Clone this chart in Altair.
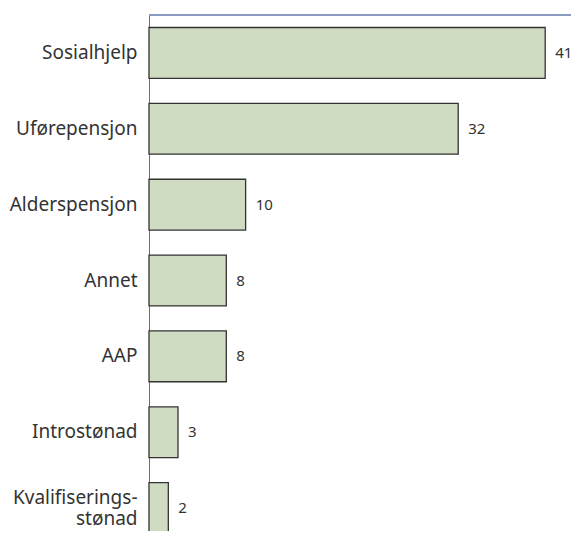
import altair as alt
import pandas as pd

categories = ["Sosialhjelp", "Uførepensjon", "Alderspensjon", "Annet", "AAP", "Introstønad", "Kvalifiseringsstønad"]
values = [41, 32, 10, 8, 8, 3, 2]

df = pd.DataFrame({"kategori": categories, "verdi": values})

W, H = 422, 516          # drawn view (kept inside the window)
XR, YR = 430, 531        # full scale ranges (extend past the window edge, as in the reference)
FONT = "Noto Sans"

y = alt.Y("kategori:N", sort=categories, title=None,
          scale=alt.Scale(paddingInner=0.33, paddingOuter=0.165, range=[0, YR]),
          axis=alt.Axis(domainColor="#5d6e99", domainWidth=1, ticks=False,
                        labelPadding=12, labelFontSize=19, labelColor="#333333",
                        labelFont=FONT, labelLineHeight=21, labelLimit=200,
                        labelOffset={"condition": {"test": "datum.value == 'Kvalifiseringsstønad'", "value": -10}, "value": 0},
                        labelExpr="datum.label == 'Kvalifiseringsstønad' ? ['Kvalifiserings-', 'stønad'] : datum.label"))
x = alt.X("verdi:Q", scale=alt.Scale(domain=[0, 44.5], nice=False, range=[0, XR]), axis=None)

bars = alt.Chart(df).mark_bar(fill="#cfdcc2", stroke="#333333", strokeWidth=1.3).encode(x=x, y=y)
text = alt.Chart(df).mark_text(align="left", baseline="middle", dx=10, fontSize=15,
                               font=FONT, color="#333333").encode(x=x, y=y, text="verdi:Q")
top = alt.Chart(df).mark_rule(color="#8a9bc0", strokeWidth=1).encode(
    x=alt.value(0), x2=alt.value(XR), y=alt.value(0))

chart = alt.layer(top, bars, text).properties(
    width=W, height=H,
    autosize=alt.AutoSizeParams(type="none"),
    padding={"left": 141, "top": 7, "right": 0, "bottom": 0},
).configure_view(stroke=None)

chart.save("out.html", embed_options={"renderer": "svg", "actions": False})
